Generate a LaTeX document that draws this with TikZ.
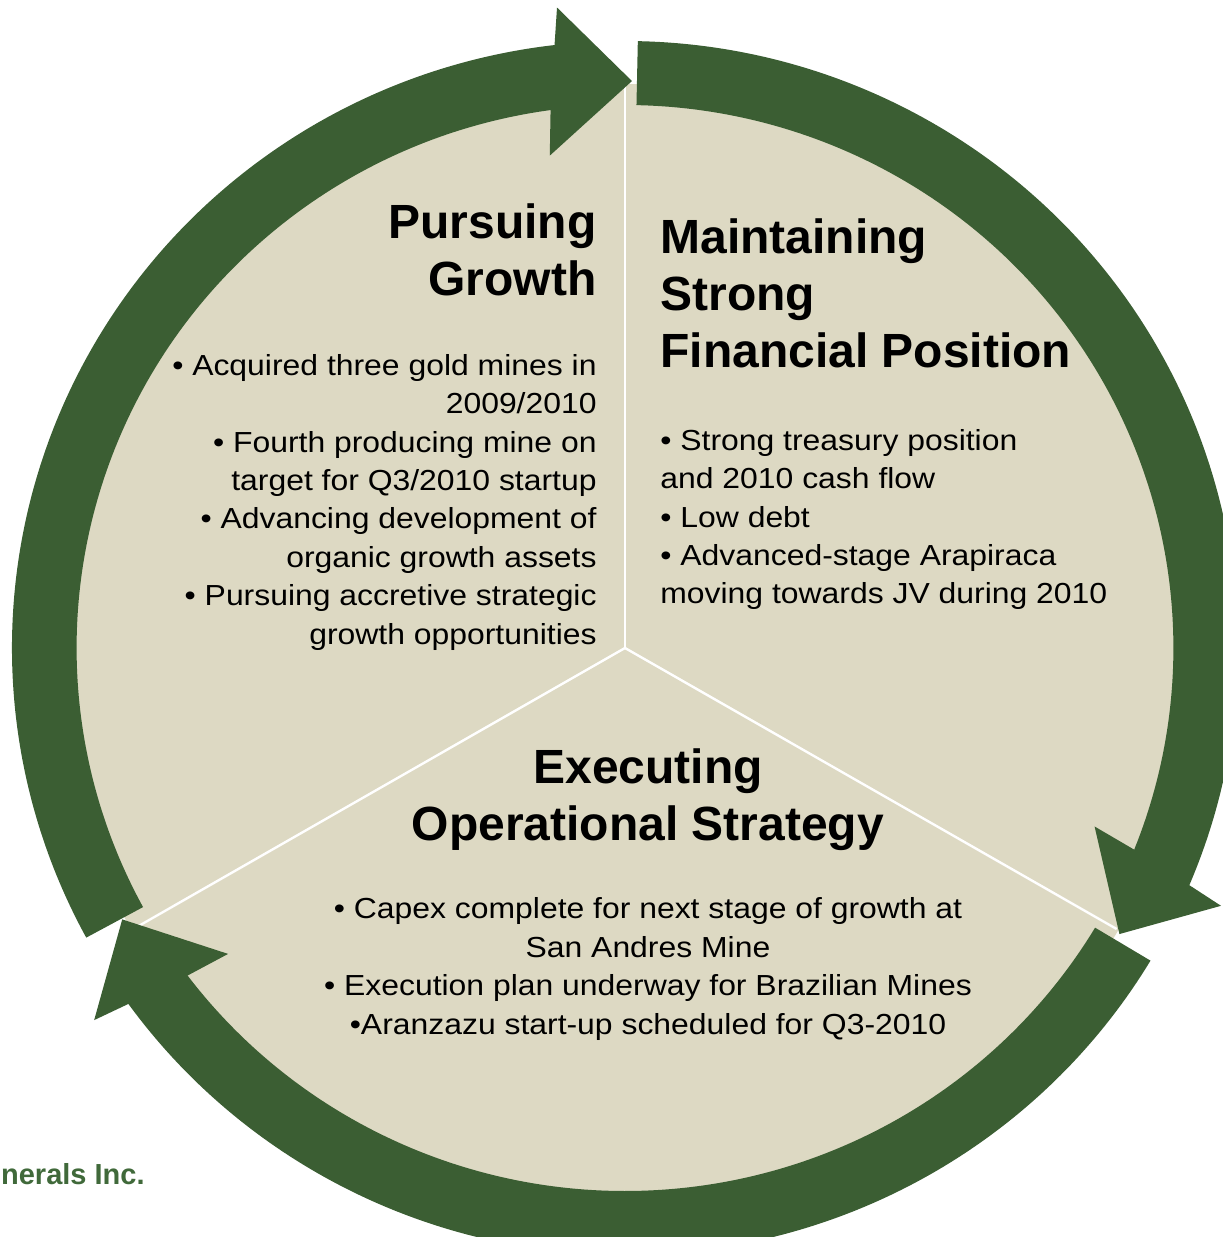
\documentclass[tikz,border=0pt]{standalone}
\usepackage{fontspec}
\setmainfont{Liberation Sans}
\newfontfamily\bodyfont[FakeStretch=1.1]{Liberation Sans}
\definecolor{ringgreen}{HTML}{3B5E33}
\definecolor{discbeige}{HTML}{DDD9C3}
\definecolor{companygreen}{HTML}{40693A}
\def\rin{543}
\def\rout{607}
\tikzset{
  ring arrow/.style={
    fill=ringgreen
  },
  disc fill/.style={
    fill=discbeige
  },
  divider/.style={
    draw=white,
    line width=1.2pt
  },
  heading/.style={
    font=\fontsize{24}{28.5}\selectfont\bfseries,
    inner sep=0pt
  },
  bullets/.style={
    font=\bodyfont\fontsize{14.5}{19.2}\selectfont,
    inner sep=0pt
  }
}
% One piece of the ring: tail angle, tip angle (clockwise)
\newcommand{\ringarrow}[2]{%
  \fill[ring arrow] (#1:\rout) arc[start angle=#1, end angle={#2+7.3}, radius=\rout]
    -- ({#2+6.7}:644) -- (#2:567) -- ({#2+9.3}:498) -- ({#2+8.5}:\rin)
    arc[start angle={#2+8.5}, end angle=#1, radius=\rin] -- cycle;}

\begin{document}
\begin{tikzpicture}[x=0.5pt,y=0.5pt]
\useasboundingbox (-625,-589) rectangle (597,648);
\begin{scope}[xscale=1.01]
% Disc and dividers
\coordinate (c) at (0,0);
\coordinate (d1) at (90:562);
\coordinate (d2) at (210:560);
\coordinate (d3) at (-30:562);
\fill[disc fill] (c) circle[radius=564];
\draw[divider] (c) -- (d1);
\draw[divider] (c) -- (d2);
\draw[divider] (c) -- (d3);
% Ring arrows
\ringarrow{208.5}{89.3}
\ringarrow{88.8}{-30.3}
\ringarrow{-31}{-151.4}
\end{scope}
% Pursuing Growth (base = last line)
\node[heading, anchor=base east, align=right] (growth head) at (-28,352) {Pursuing\\Growth};
\node[bullets, anchor=base east, align=right] (growth body) at (-28,4)
  {• Acquired three gold mines in\\2009/2010\\• Fourth producing mine on\\target for Q3/2010 startup\\
   • Advancing development of\\organic growth assets\\• Pursuing accretive strategic\\growth opportunities};
% Maintaining Strong Financial Position
\node[heading, anchor=base west, align=left] (finance head) at (35,280) {Maintaining\\Strong\\Financial Position};
\node[bullets, anchor=base west, align=left] (finance body) at (35,44)
  {• Strong treasury position\\and 2010 cash flow\\• Low debt\\• Advanced-stage Arapiraca\\moving towards JV during 2010};
% Executing Operational Strategy
\node[heading, anchor=base, align=center] (ops head) at (23,-192) {Executing\\Operational Strategy};
\node[bullets, anchor=base, align=center] (ops body) at (23,-386)
  {• Capex complete for next stage of growth at\\San Andres Mine\\• Execution plan underway for Brazilian Mines\\•Aranzazu start-up scheduled for Q3-2010};
% Company name
\node[anchor=base east, font=\fontsize{14.5}{17}\selectfont\bfseries, text=companygreen, inner sep=0pt]
  (company) at (-480,-536) {nerals Inc.};
\end{tikzpicture}
\end{document}
